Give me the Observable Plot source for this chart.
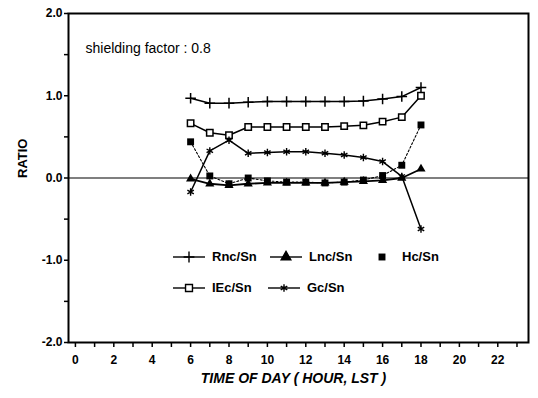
<!DOCTYPE html>
<html>
<head>
<meta charset="utf-8">
<script src="https://cdn.jsdelivr.net/npm/d3@7"></script>
<script src="https://cdn.jsdelivr.net/npm/@observablehq/plot@0.6"></script>
<style>
  html, body { margin: 0; padding: 0; background: #fff; }
  #wrap { position: relative; width: 538px; height: 398px; font-family: "Liberation Sans", Arial, sans-serif; }
  .lg { position: absolute; font-weight: bold; font-size: 13px; color: #000; white-space: nowrap; line-height: 1; }
  .lgsym { position: absolute; }
</style>
</head>
<body>
<div id="wrap"></div>
<script>
// ---- data ----
const hours = [6, 7, 8, 9, 10, 11, 12, 13, 14, 15, 16, 17, 18];
const rncSn = [0.97, 0.91, 0.91, 0.92, 0.93, 0.93, 0.93, 0.93, 0.93, 0.935, 0.96, 0.99, 1.10];
const lncSn = [-0.01, -0.07, -0.09, -0.07, -0.06, -0.06, -0.06, -0.06, -0.05, -0.04, -0.03, 0.0, 0.11];
const hcSn  = [0.44, 0.025, -0.07, 0.0, -0.035, -0.05, -0.05, -0.06, -0.05, -0.025, 0.03, 0.155, 0.645];
const iecSn = [0.665, 0.55, 0.52, 0.62, 0.62, 0.62, 0.62, 0.62, 0.63, 0.64, 0.685, 0.74, 1.0];
const gcSn  = [-0.17, 0.33, 0.46, 0.30, 0.31, 0.32, 0.32, 0.30, 0.28, 0.25, 0.20, 0.02, -0.62];
const xTicks = d3.range(0, 24);
const yTicks = [-2, -1.5, -1, -0.5, 0, 0.5, 1, 1.5, 2];
const annotation = "shielding factor : 0.8";
const xLabel = "TIME OF DAY ( HOUR, LST )";
const yLabel = "RATIO";

const rows = (vals) => hours.map((h, i) => ({hour: h, value: vals[i]}));
const rnc = rows(rncSn), lnc = rows(lncSn), hc = rows(hcSn), iec = rows(iecSn), gc = rows(gcSn);

const curve = "linear";
const plot = Plot.plot({
  width: 538,
  height: 398,
  marginLeft: 68,
  marginRight: 10,
  marginTop: 13,
  marginBottom: 56,
  style: {fontFamily: "Liberation Sans, Arial, sans-serif", fontSize: "12px", fontWeight: "bold", color: "#000", background: "#fff"},
  x: {domain: [-0.36, 23.6]},
  y: {domain: [-2, 2]},
  marks: [
    Plot.ruleY([0], {stroke: "#000", strokeWidth: 1.2}),
    Plot.frame({stroke: "#000", strokeWidth: 2}),
    Plot.axisX({ticks: xTicks, tickFormat: d => d % 2 === 0 ? String(d) : "", tickSize: 5, tickPadding: 8, label: null, fontSize: 12, strokeWidth: 1.5}),
    Plot.axisY({ticks: yTicks, tickFormat: d => Number.isInteger(d) ? d.toFixed(1) : "", tickSize: 4, tickPadding: 2, label: null, fontSize: 12, strokeWidth: 1.5}),
    // Rnc/Sn
    Plot.line(rnc, {x: "hour", y: "value", stroke: "#000", strokeWidth: 1.5, curve}),
    Plot.dot(rnc, {x: "hour", y: "value", symbol: "plus", r: 3.5, stroke: "#000", strokeWidth: 1.5}),
    // IEc/Sn
    Plot.line(iec, {x: "hour", y: "value", stroke: "#000", strokeWidth: 1.5, curve}),
    Plot.dot(iec, {x: "hour", y: "value", symbol: "square", r: 3.6, fill: "#fff", stroke: "#000", strokeWidth: 1.5}),
    // Gc/Sn
    Plot.line(gc, {x: "hour", y: "value", stroke: "#000", strokeWidth: 1.5, curve}),
    Plot.dot(gc, {x: "hour", y: "value", symbol: "asterisk", r: 3.5, stroke: "#000", strokeWidth: 1.4}),
    // Lnc/Sn
    Plot.line(lnc, {x: "hour", y: "value", stroke: "#000", strokeWidth: 1.8, curve}),
    Plot.dot(lnc, {x: "hour", y: "value", symbol: "triangle", r: 3.4, fill: "#000"}),
    // Hc/Sn
    Plot.line(hc, {x: "hour", y: "value", stroke: "#000", strokeWidth: 1.1, strokeDasharray: "2,2"}),
    Plot.dot(hc, {x: "hour", y: "value", symbol: "square", r: 3.9, fill: "#000"}),
    // texts
    Plot.text([annotation], {frameAnchor: "top-left", dx: 17, dy: 30, textAnchor: "start", fontSize: 14, fontWeight: "normal"}),
    Plot.text([xLabel], {frameAnchor: "bottom", dx: -5, dy: 40, fontSize: 14, fontWeight: "bold", fontStyle: "italic"}),
    Plot.text([yLabel], {frameAnchor: "left", dx: -46, rotate: -90, fontSize: 13, fontWeight: "bold"})
  ]
});
const wrap = document.getElementById("wrap");
wrap.appendChild(plot);

// ---- legend (inside the plot area) ----
const legendItems = [
  {label: "Rnc/Sn", sym: d3.symbolPlus, fill: "none", line: true, x: 173, y: 257},
  {label: "Lnc/Sn", sym: d3.symbolTriangle, fill: "#000", line: true, x: 270, y: 257},
  {label: "Hc/Sn", sym: d3.symbolSquare, fill: "#000", line: false, x: 366, y: 257},
  {label: "IEc/Sn", sym: d3.symbolSquare, fill: "#fff", line: true, x: 173, y: 288},
  {label: "Gc/Sn", sym: d3.symbolAsterisk, fill: "none", line: true, x: 268, y: 288}
];
const sizes = new Map([[d3.symbolPlus, 40], [d3.symbolTriangle, 40], [d3.symbolSquare, 48], [d3.symbolAsterisk, 40]]);
for (const it of legendItems) {
  const w = 32, h = 16;
  const svg = d3.create("svg").attr("width", w).attr("height", h).attr("class", "lgsym")
    .style("left", it.x + "px").style("top", (it.y - h / 2) + "px");
  if (it.line) svg.append("line").attr("x1", 0).attr("x2", w).attr("y1", h / 2).attr("y2", h / 2).attr("stroke", "#000").attr("stroke-width", 1.4);
  svg.append("path").attr("d", d3.symbol(it.sym, sizes.get(it.sym))())
    .attr("transform", `translate(${w / 2},${h / 2})`)
    .attr("fill", it.fill).attr("stroke", it.sym === d3.symbolSquare && it.fill === "#000" ? "none" : "#000").attr("stroke-width", 1.4);
  wrap.appendChild(svg.node());
  const t = document.createElement("div");
  t.className = "lg";
  t.textContent = it.label;
  t.style.left = (it.x + (it.line ? 39 : 36)) + "px";
  t.style.top = (it.y - 7) + "px";
  wrap.appendChild(t);
}
</script>
</body>
</html>
